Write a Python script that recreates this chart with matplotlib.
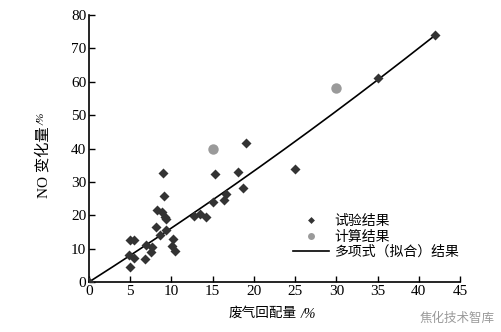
import numpy as np
import matplotlib.pyplot as plt
from matplotlib.lines import Line2D

# measured data: exhaust recirculation ratio (%) vs NO change (%)
exp_x = [0, 4.8, 5.0, 5.0, 5.5, 5.4, 6.8, 6.9, 7.6, 7.5, 8.1, 8.3, 8.8, 9.0, 9.1,
         9.2, 9.4, 8.6, 9.4, 10.2, 10.1, 10.4, 12.7, 13.5, 14.2, 15.1, 15.3,
         16.6, 16.4, 18.1, 18.7, 19.1, 25.0, 35.0, 42.0]
exp_y = [0, 8.1, 4.6, 12.6, 12.6, 7.1, 6.8, 11.1, 10.6, 9.1, 16.4, 21.6, 21.1, 32.6, 25.9,
         19.6, 18.8, 14.1, 15.6, 12.9, 10.8, 9.3, 19.8, 20.4, 19.4, 24.1, 32.3,
         26.4, 24.6, 33.1, 28.1, 41.5, 34.0, 61.0, 74.0]

# calculated results
calc_x = [15.0, 30.0]
calc_y = [40.0, 58.0]

# polynomial fit coefficients (highest order first)
fit_coef = [0.0045, 1.572, 0.0]
fit_range = (0, 42)

x_ticks = [0, 5, 10, 15, 20, 25, 30, 35, 40, 45]
y_ticks = [0, 10, 20, 30, 40, 50, 60, 70, 80]

serif = ['Liberation Serif', 'Noto Sans CJK SC']
cjk = ['Noto Sans CJK SC', 'Liberation Serif']

fig = plt.figure(figsize=(5.02, 3.32), dpi=100)
ax = fig.add_axes([0.1773, 0.1506, 0.739, 0.8042])

xf = np.linspace(fit_range[0], fit_range[1], 200)
ax.plot(xf, np.polyval(fit_coef, xf), color='black', lw=1.2, zorder=2)
ax.plot(exp_x, exp_y, 'D', ms=5.2, color='#333333', mec='none', zorder=3)
ax.plot(calc_x, calc_y, 'o', ms=7.5, color='#9a9a9a', mec='none', zorder=3)

ax.set_xlim(0, 45)
ax.set_ylim(0, 80)
ax.set_xticks(x_ticks)
ax.set_yticks(y_ticks)
ax.tick_params(direction='in', length=4, width=1, labelsize=11, pad=2)
for lab in ax.get_xticklabels() + ax.get_yticklabels():
    lab.set_family(serif)
ax.spines['top'].set_visible(False)
ax.spines['right'].set_visible(False)
for s in ('left', 'bottom'):
    ax.spines[s].set_linewidth(1.2)
ax.patch.set_alpha(0)

# axis titles: CJK text followed by a small italic unit
fig.text(297 / 502, 1 - 313 / 332, '废气回配量', family=cjk, fontsize=9.8,
         ha='right', va='center')
fig.text(301 / 502, 1 - 314 / 332, '/%', family='Liberation Serif', style='italic',
         fontsize=10, ha='left', va='center')
fig.text(43 / 502, 1 - 198 / 332, 'NO 变化量', family=serif, fontsize=11,
         rotation=90, ha='center', va='bottom')
fig.text(42 / 502, 1 - 125 / 332, '/%', family='Liberation Serif', style='italic',
         fontsize=8, rotation=90, ha='center', va='bottom')

handles = [
    Line2D([], [], marker='D', ls='none', ms=3.5, color='#333333', mec='none'),
    Line2D([], [], marker='o', ls='none', ms=5, color='#9a9a9a', mec='none'),
    Line2D([], [], color='black', lw=1.2),
]
labels = ['试验结果', '计算结果', '多项式（拟合）结果']
leg = ax.legend(handles, labels, loc='upper left', bbox_to_anchor=(0.535, 0.275),
                frameon=False, prop={'family': cjk, 'size': 10},
                handlelength=2.6, handletextpad=0.4, labelspacing=0.1,
                borderaxespad=0)

fig.text(0.985, 0.02, '焦化技术智库', family=cjk, fontsize=9, color='#9a9a9a',
         ha='right', va='bottom')

fig.savefig('out.png', dpi=100)
